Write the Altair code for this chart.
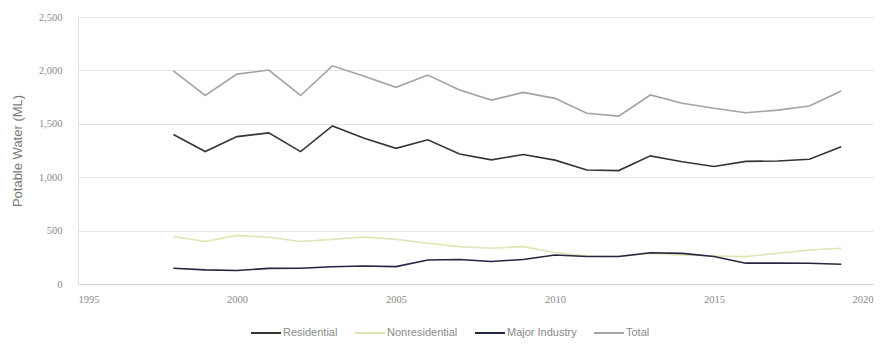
import altair as alt
import pandas as pd

years = list(range(1998, 2020))

residential = [1400, 1240, 1380, 1415, 1240, 1480, 1365, 1270, 1350, 1218, 1162,
               1212, 1160, 1068, 1062, 1200, 1145, 1100, 1148, 1152, 1168, 1285]
nonresidential = [445, 398, 455, 438, 398, 418, 440, 418, 382, 350, 335,
                  350, 295, 262, 258, 287, 272, 262, 256, 288, 318, 335]
major_industry = [147, 132, 126, 146, 148, 162, 168, 163, 225, 230, 210,
                  230, 272, 258, 258, 292, 287, 258, 195, 195, 194, 185]
total = [1995, 1765, 1965, 2003, 1765, 2043, 1945, 1842, 1956, 1816, 1722,
         1794, 1738, 1598, 1572, 1770, 1692, 1645, 1603, 1628, 1667, 1808]

series = ["Residential", "Nonresidential", "Major Industry", "Total"]
colors = ["#33372f", "#dfe6b4", "#232741", "#a3a3a3"]

rows = []
for name, vals in zip(series, [residential, nonresidential, major_industry, total]):
    for y, v in zip(years, vals):
        rows.append({"Year": y, "Use": name, "Value": v})
df = pd.DataFrame(rows)

chart = alt.Chart(df).mark_line(strokeWidth=1.6).encode(
    x=alt.X("Year:Q",
            scale=alt.Scale(domain=[1995, 2020], nice=False, zero=False),
            axis=alt.Axis(values=[1995, 2000, 2005, 2010, 2015, 2020], format="d",
                          title=None, grid=False, ticks=False, labelPadding=10,
                          domainColor="#d0d0d0", labelColor="#8a8a8a",
                          labelFontSize=10.5, labelFont="Liberation Serif")),
    y=alt.Y("Value:Q",
            scale=alt.Scale(domain=[0, 2500], nice=False),
            axis=alt.Axis(values=[0, 500, 1000, 1500, 2000, 2500], format=",d",
                          title="Potable Water (ML)", titleFontWeight="normal",
                          titleFontSize=13, titleColor="#7a7a7a", titlePadding=14,
                          titleFont="Liberation Sans",
                          grid=True, gridColor="#e3e3e3", ticks=False,
                          domain=True, domainColor="#e0e0e0", labelPadding=16,
                          labelColor="#8a8a8a", labelFontSize=10.5,
                          labelFont="Liberation Serif")),
    color=alt.Color("Use:N", sort=series,
                    scale=alt.Scale(domain=series, range=colors),
                    legend=alt.Legend(orient="none", legendX=172, legendY=300,
                                      direction="horizontal", title=None,
                                      symbolType="stroke", symbolSize=900,
                                      symbolStrokeWidth=2, columnPadding=13,
                                      labelFontSize=11, labelColor="#8a8a8a",
                                      labelFont="Liberation Sans",
                                      labelOffset=1)),
    order=alt.Order("Year:Q"),
).properties(
    width=795, height=267,
    autosize="none",
    padding={"left": 78, "top": 17, "right": 18, "bottom": 62},
).configure_view(stroke=None)

chart.save("out.html", embed_options={"renderer": "svg", "actions": False})
